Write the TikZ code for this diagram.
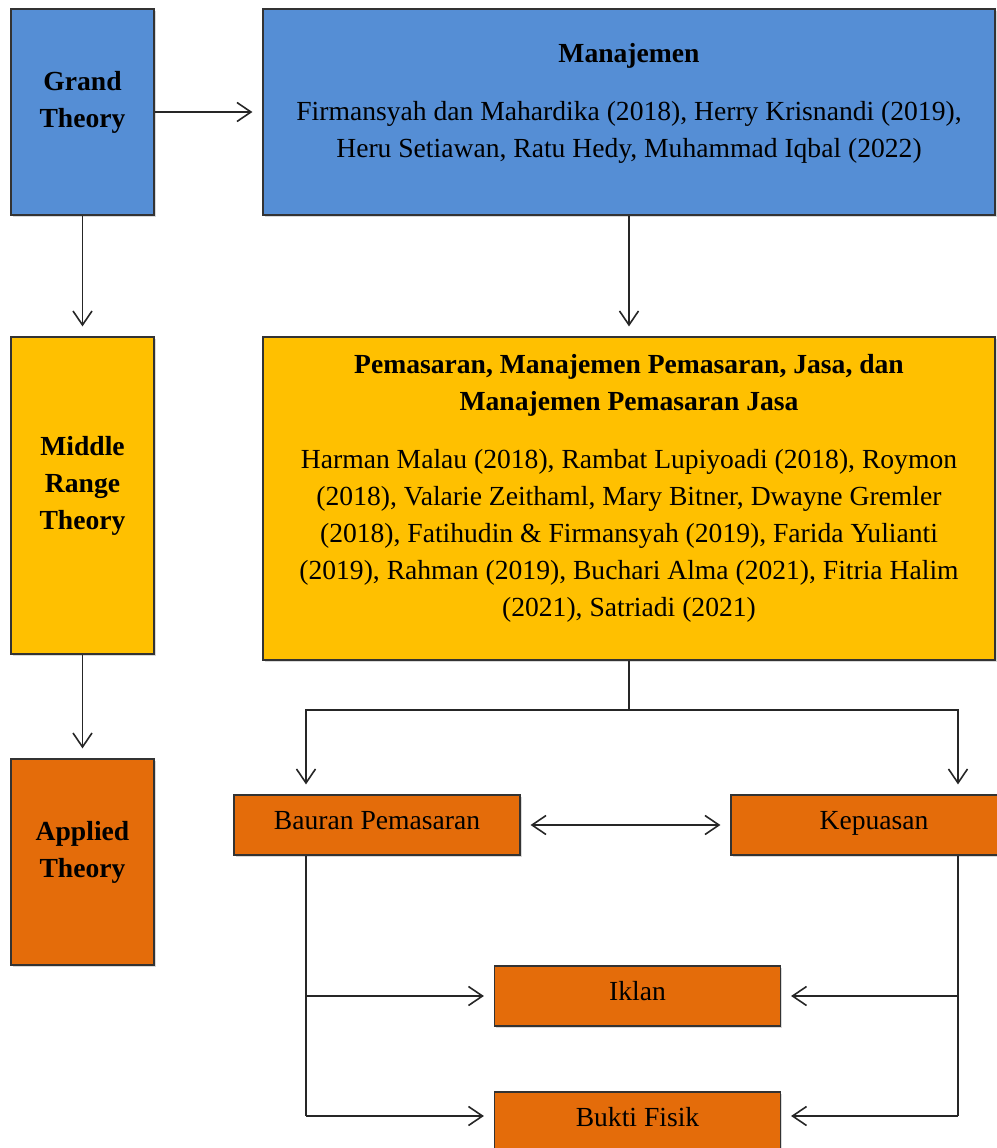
\documentclass[tikz,border=0pt]{standalone}
\usepackage{fontspec}
\setmainfont{Liberation Serif}
\usepackage{xcolor}
\definecolor{TheoBlue}{RGB}{85, 142, 213}
\definecolor{TheoGold}{RGB}{255, 192, 0}
\definecolor{TheoOrange}{RGB}{228, 108, 10}
\usepackage{tikz}
\usetikzlibrary{arrows.meta, shadows}

\begin{document}
\begin{tikzpicture}[
        x=0.5pt, y=-0.5pt,
        >={Straight Barb[length=7pt, width=9.5pt]},
        every node/.style={font=\fontsize{13.8pt}{18.5pt}\selectfont},
        box/.style={rectangle, draw=black!80, line width=0.6pt, inner sep=0pt,
            drop shadow={shadow xshift=0.8pt, shadow yshift=-0.8pt, opacity=0.3}},
        level/.style={box, minimum width=71.5pt},
        wide/.style={box, minimum width=366pt},
        item/.style={box, fill=TheoOrange, minimum width=143pt, minimum height=30pt, text height=9.5pt, text depth=5pt},
        head/.style={align=center, font=\fontsize{13.8pt}{18.5pt}\selectfont\bfseries},
        body/.style={align=center},
        link/.style={->, line width=0.8pt, color=black!85, shorten >=5pt},
        wire/.style={line width=0.8pt, color=black!85}
    ]
        \path[use as bounding box, clip] (0,0) rectangle (997,1148);

        % --- THEORY LEVELS ---
        \node[level, fill=TheoBlue, minimum height=103pt] (grand) at (82.5,112) {};
        \node[head] (grandT) at (82.5,102) {Grand\\Theory};

        \node[level, fill=TheoGold, minimum height=158.5pt] (middle) at (82.5,495.5) {};
        \node[head] (middleT) at (82.5,486) {Middle\\Range\\Theory};

        \node[level, fill=TheoOrange, minimum height=103pt] (applied) at (82.5,862) {};
        \node[head] (appliedT) at (82.5,852.5) {Applied\\Theory};

        % --- SOURCES ---
        \node[wide, fill=TheoBlue, minimum height=103pt] (manaj) at (629,112) {};
        \node[body] (manajT) at (629,103) {\textbf{Manajemen}\\[10.5pt]
            Firmansyah dan Mahardika (2018), Herry Krisnandi (2019),\\
            Heru Setiawan, Ratu Hedy, Muhammad Iqbal (2022)};

        \node[wide, fill=TheoGold, minimum height=161.5pt] (pemas) at (629,498.5) {};
        \node[body] (pemasT) at (629,488.5) {\textbf{Pemasaran, Manajemen Pemasaran, Jasa, dan}\\
            \textbf{Manajemen Pemasaran Jasa}\\[10.5pt]
            Harman Malau (2018), Rambat Lupiyoadi (2018), Roymon\\
            (2018), Valarie Zeithaml, Mary Bitner, Dwayne Gremler\\
            (2018), Fatihudin \& Firmansyah (2019), Farida Yulianti\\
            (2019), Rahman (2019), Buchari Alma (2021), Fitria Halim\\
            (2021), Satriadi (2021)};

        % --- VARIABLES ---
        \node[item] (bauran) at (377,825) {Bauran Pemasaran};
        \node[item] (kepuasan) at (874,825) {Kepuasan};
        \node[item] (iklan) at (637.5,996) {Iklan};
        \node[item] (bukti) at (637.5,1122) {Bukti Fisik};

        \coordinate (split) at (629,710);
        \coordinate (lx) at (306,0);
        \coordinate (rx) at (958,0);
        \coordinate (lbot) at (306,1116);
        \coordinate (rbot) at (958,1116);

        % --- CONNECTIONS ---
        \draw[link] (grand) -- (manaj);
        \draw[link] (grand) -- (middle);
        \draw[link] (middle) -- (applied);
        \draw[link] (manaj) -- (pemas);

        \draw[link] (pemas.south) -- (split) -| (bauran.north -| lx);
        \draw[link] (split) -| (kepuasan.north -| rx);
        \draw[link, <->, shorten <=5pt] (bauran) -- (kepuasan);

        \draw[wire] (bauran.south -| lx) -- (lbot);
        \draw[link] (iklan.west -| lx) -- (iklan.west);
        \draw[link] (lbot) -- (lbot -| bukti.west);

        \draw[wire] (kepuasan.south -| rx) -- (rbot);
        \draw[link] (iklan.east -| rx) -- (iklan.east);
        \draw[link] (rbot) -- (rbot -| bukti.east);

    \end{tikzpicture}
\end{document}
